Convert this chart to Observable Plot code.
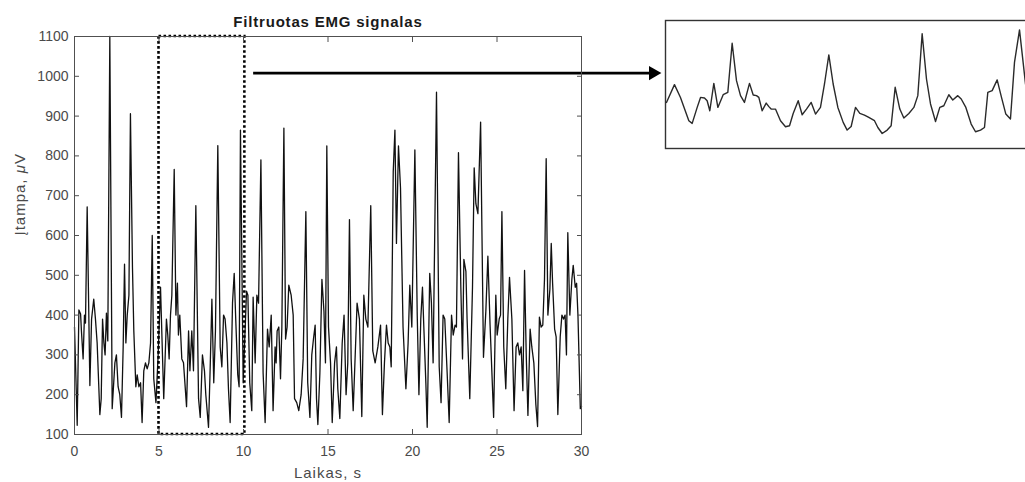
<!DOCTYPE html>
<html>
<head>
<meta charset="utf-8">
<script src="https://cdn.jsdelivr.net/npm/d3@7"></script>
<script src="https://cdn.jsdelivr.net/npm/@observablehq/plot@0.6"></script>
<style>
html, body { margin: 0; padding: 0; background: #fff; overflow: hidden; }
#wrap { position: relative; width: 1025px; height: 482px; overflow: hidden; }
#main { position: absolute; left: 0; top: 0; width: 1025px; height: 482px; }
#inset { position: absolute; left: 664px; top: 19px; width: 382px; height: 130px; }
#wrap svg { max-width: none !important; }
</style>
</head>
<body>
<div id="wrap"><div id="main"></div><div id="inset"></div></div>
<script>
// ---- texts ----
const title = "Filtruotas EMG signalas";
const xLabel = "Laikas, s";
const yLabel = "Įtampa, μV";

// ---- axes ----
const xTicks = [0, 5, 10, 15, 20, 25, 30];
const yTicks = [100, 200, 300, 400, 500, 600, 700, 800, 900, 1000, 1100];

// ---- filtered EMG signal (time in s, amplitude in µV) ----
const times = [
  0, 0.16, 0.26, 0.36, 0.41, 0.51, 0.59, 0.65, 0.75, 0.91,
  1.01, 1.14, 1.24, 1.34, 1.50, 1.58, 1.66, 1.74, 1.81, 1.89, 1.97,
  2.09, 2.23, 2.39, 2.48, 2.58, 2.68, 2.78, 2.88, 2.96,
  3.04, 3.12, 3.22, 3.31, 3.43, 3.51, 3.63, 3.71, 3.81, 3.91,
  4.00, 4.10, 4.20, 4.30, 4.40, 4.50, 4.60, 4.69, 4.82, 4.95,
  5.09, 5.28, 5.44, 5.52, 5.60, 5.68, 5.76, 5.90,
  6.00, 6.09, 6.15, 6.23, 6.35, 6.45, 6.63, 6.75, 6.83, 6.94,
  7.04, 7.18, 7.34, 7.44, 7.57, 7.69, 7.77, 7.93,
  8.03, 8.13, 8.24, 8.34, 8.48, 8.62, 8.72, 8.82, 8.91,
  9.02, 9.11, 9.21, 9.35, 9.45, 9.54, 9.66, 9.74, 9.82, 9.98,
  10.18, 10.26, 10.37, 10.49, 10.57, 10.69, 10.79, 10.89,
  11.03, 11.16, 11.28, 11.42, 11.52, 11.64, 11.75, 11.87, 11.93, 11.99,
  12.09, 12.19, 12.27, 12.39, 12.49, 12.58, 12.68, 12.82, 12.94,
  13.02, 13.15, 13.27, 13.41, 13.53, 13.69, 13.80, 13.93,
  14.04, 14.14, 14.24, 14.32, 14.40, 14.52, 14.64, 14.76, 14.85, 14.93,
  15.03, 15.15, 15.25, 15.39, 15.50, 15.58, 15.70, 15.84, 15.95,
  16.07, 16.17, 16.27, 16.37, 16.49, 16.61, 16.72, 16.86,
  17.00, 17.12, 17.24, 17.36, 17.53, 17.65, 17.79, 17.95,
  18.11, 18.22, 18.34, 18.46, 18.56, 18.66, 18.74, 18.86, 18.96,
  19.05, 19.17, 19.29, 19.44, 19.61, 19.74, 19.84, 19.96,
  20.14, 20.28, 20.38, 20.49, 20.59, 20.67, 20.79, 20.87,
  21.02, 21.12, 21.22, 21.42, 21.58, 21.69, 21.81, 21.91,
  22.05, 22.17, 22.31, 22.41, 22.52, 22.60, 22.72, 22.86, 22.96,
  23.04, 23.16, 23.23, 23.39, 23.55, 23.65, 23.75, 23.87,
  24.03, 24.20, 24.34, 24.46, 24.59, 24.80, 24.93,
  25.01, 25.13, 25.21, 25.29, 25.40, 25.52, 25.64, 25.74, 25.88,
  26.01, 26.13, 26.23, 26.33, 26.43, 26.53, 26.63, 26.73, 26.83, 26.96,
  27.06, 27.18, 27.30, 27.40, 27.51, 27.61, 27.71, 27.81, 27.91,
  28.01, 28.13, 28.21, 28.29, 28.41, 28.50, 28.60, 28.74, 28.84, 28.94,
  29.03, 29.11, 29.19, 29.31, 29.43, 29.51, 29.63, 29.71, 29.79, 29.93, 30
];
const volts = [
  370, 123, 413, 403, 360, 290, 400, 380, 672, 223,
  390, 440, 390, 330, 150, 190, 390, 330, 300, 405, 335,
  1100, 165, 280, 300, 220, 200, 143, 320, 528,
  330, 400, 450, 906, 520, 360, 220, 250, 220, 230,
  130, 260, 280, 265, 280, 330, 600, 240, 180, 300,
  470, 190, 390, 350, 290, 400, 450, 766,
  400, 480, 350, 400, 290, 280, 170, 360, 260, 360,
  260, 675, 190, 143, 300, 260, 200, 118,
  270, 440, 230, 360, 826, 320, 270, 400, 390,
  330, 215, 130, 430, 505, 390, 250, 220, 865, 230,
  460, 450, 230, 160, 445, 280, 450, 430,
  790, 255, 130, 365, 320, 400, 160, 320, 280, 360,
  370, 240, 370, 870, 340, 370, 475, 450, 400,
  190, 180, 160, 200, 290, 660, 230, 143,
  300, 340, 375, 190, 125, 255, 490, 410, 280, 825,
  370, 280, 130, 280, 320, 215, 140, 330, 400,
  200, 280, 640, 290, 160, 300, 430, 390,
  145, 450, 390, 370, 675, 310, 280, 320,
  375, 150, 280, 375, 330, 320, 270, 760, 865,
  580, 825, 720, 370, 215, 330, 475, 370,
  815, 400, 200, 390, 470, 370, 230, 118,
  505, 430, 280, 960, 270, 180, 400, 390,
  255, 130, 400, 350, 375, 370, 808, 470, 290,
  540, 510, 390, 190, 470, 770, 680, 655,
  885, 294, 410, 548, 375, 143, 450,
  350, 390, 400, 660, 320, 215, 390, 495, 390,
  160, 320, 330, 300, 320, 210, 512, 300, 148, 365,
  320, 280, 175, 120, 395, 370, 375, 490, 793,
  400, 465, 580, 480, 365, 345, 150, 345, 400, 390,
  400, 300, 607, 400, 490, 525, 470, 480, 400, 165, 170
];

// ---- highlighted window and callout ----
const windowStart = 5;
const windowEnd = 10.08;
const arrowFrom = 10.6;
const arrowTo = 34.7;
const arrowLevel = 1008;

// ---- enlarged window shown in the inset (time in s, amplitude in µV) ----
const insetTimes = [
  5.013, 5.118, 5.197, 5.307, 5.351, 5.417, 5.461, 5.513, 5.548, 5.583,
  5.636, 5.689, 5.759, 5.820, 5.877, 5.934, 5.987, 6.039, 6.105, 6.154,
  6.197, 6.228, 6.272, 6.325, 6.360, 6.390, 6.447, 6.513, 6.579, 6.632,
  6.680, 6.746, 6.798, 6.855, 6.917, 6.974, 7.039, 7.092, 7.149, 7.206,
  7.268, 7.338, 7.390, 7.443, 7.500, 7.557, 7.618, 7.675, 7.750, 7.794,
  7.851, 7.917, 7.969, 8.022, 8.083, 8.136, 8.202, 8.268, 8.320, 8.377,
  8.434, 8.487, 8.553, 8.609, 8.662, 8.728, 8.780, 8.846, 8.891, 8.952,
  9.022, 9.079, 9.145, 9.197, 9.241, 9.298, 9.364, 9.421, 9.478, 9.539,
  9.592, 9.658, 9.737, 9.800
];
const insetVolts = [
  460, 599, 499, 317, 296, 421, 499, 495, 473, 395,
  609, 421, 520, 538, 922, 630, 513, 460, 609, 518,
  513, 499, 395, 455, 427, 408, 408, 317, 270, 278,
  374, 473, 364, 408, 460, 369, 421, 604, 831, 604,
  421, 304, 244, 272, 421, 374, 361, 343, 317, 264,
  217, 244, 278, 578, 408, 338, 374, 421, 513, 996,
  643, 448, 311, 421, 434, 520, 479, 513, 487, 421,
  291, 231, 244, 264, 538, 552, 636, 499, 369, 330,
  773, 1027, 604, 450
];

const font = "'Liberation Sans', Arial, Helvetica, sans-serif";
const signal = times.map((t, i) => ({t, v: volts[i]}));
const yDomain = [d3.min(yTicks), d3.max(yTicks)];
const xDomain = [d3.min(xTicks), d3.max(xTicks)];
const plain = d => String(d);

const main = Plot.plot({
  width: 1025,
  height: 482,
  marginLeft: 74,
  marginRight: 444,
  marginTop: 36,
  marginBottom: 48,
  style: {fontFamily: font, fontSize: "14px", color: "#4a4a4a", background: "white", overflow: "visible"},
  x: {domain: xDomain, label: null},
  y: {domain: yDomain, label: null},
  marks: [
    Plot.line(signal, {x: "t", y: "v", stroke: "#111", strokeWidth: 1.3}),
    Plot.rect([{a: windowStart, b: windowEnd}], {
      x1: "a", x2: "b", y1: () => yDomain[0], y2: () => yDomain[1],
      fill: "none", stroke: "#000", strokeWidth: 2.6, strokeDasharray: "2.6,2.4"
    }),
    Plot.ruleY([arrowLevel], {x1: arrowFrom, x2: arrowTo - 0.45, stroke: "#000", strokeWidth: 2.8}),
    Plot.dot([arrowLevel], {x: () => arrowTo, y: d => d, symbol: "triangle", r: 5.3, fill: "#000", stroke: "none", rotate: 90, dx: -7.8}),
    Plot.frame({stroke: "#505050", strokeWidth: 1}),
    Plot.axisX(xTicks, {anchor: "bottom", tickSize: -5, tickPadding: 17, tickFormat: plain, fontSize: 14, fill: "#4a4a4a", stroke: "#505050", label: null}),
    Plot.axisX(xTicks, {anchor: "top", tickSize: -5, tickFormat: () => "", stroke: "#505050", label: null}),
    Plot.axisY(yTicks, {anchor: "left", tickSize: -5, tickPadding: 11, tickFormat: plain, fontSize: 14, fill: "#4a4a4a", stroke: "#505050", label: null}),
    Plot.axisY(yTicks, {anchor: "right", tickSize: -5, tickFormat: () => "", stroke: "#505050", label: null}),
    Plot.text([title], {frameAnchor: "top", dy: -14, lineAnchor: "middle", fontWeight: "bold", fontSize: 15, fill: "#1a1a1a"}),
    Plot.text([xLabel], {frameAnchor: "bottom", dy: 39, lineAnchor: "middle", fontSize: 15, fill: "#4a4a4a"}),
    Plot.text([yLabel], {frameAnchor: "left", dx: -54, lineAnchor: "middle", rotate: -90, fontSize: 15, fill: "#4a4a4a"})
  ]
});
document.getElementById("main").appendChild(main);

// letter spacing and italic µ like the original rendering
d3.select(main).selectAll("text").each(function () {
  const t = this.textContent;
  if (t === title) this.setAttribute("letter-spacing", "0.8");
  if (t === xLabel) this.setAttribute("letter-spacing", "1");
  if (t === yLabel) {
    this.setAttribute("letter-spacing", "1");
    const i = t.indexOf("μ");
    this.textContent = "";
    d3.select(this).append("tspan").text(t.slice(0, i));
    d3.select(this).append("tspan").attr("font-style", "italic").text("μ");
    d3.select(this).append("tspan").text(t.slice(i + 1));
  }
});

const insetData = insetTimes.map((t, i) => ({t, v: insetVolts[i]}));
const inset = Plot.plot({
  width: 382,
  height: 130,
  margin: 1,
  style: {background: "transparent", overflow: "visible", maxWidth: "none"},
  x: {domain: [windowStart, windowStart + 5], axis: null},
  y: {domain: yDomain, axis: null},
  marks: [
    Plot.frame({stroke: "#333", strokeWidth: 1.4, fill: "white"}),
    Plot.line(insetData, {x: "t", y: "v", stroke: "#2a2a2a", strokeWidth: 1.4})
  ]
});
inset.style.maxWidth = "none";
inset.style.width = "382px";
inset.style.height = "130px";
document.getElementById("inset").appendChild(inset);
</script>
</body>
</html>
